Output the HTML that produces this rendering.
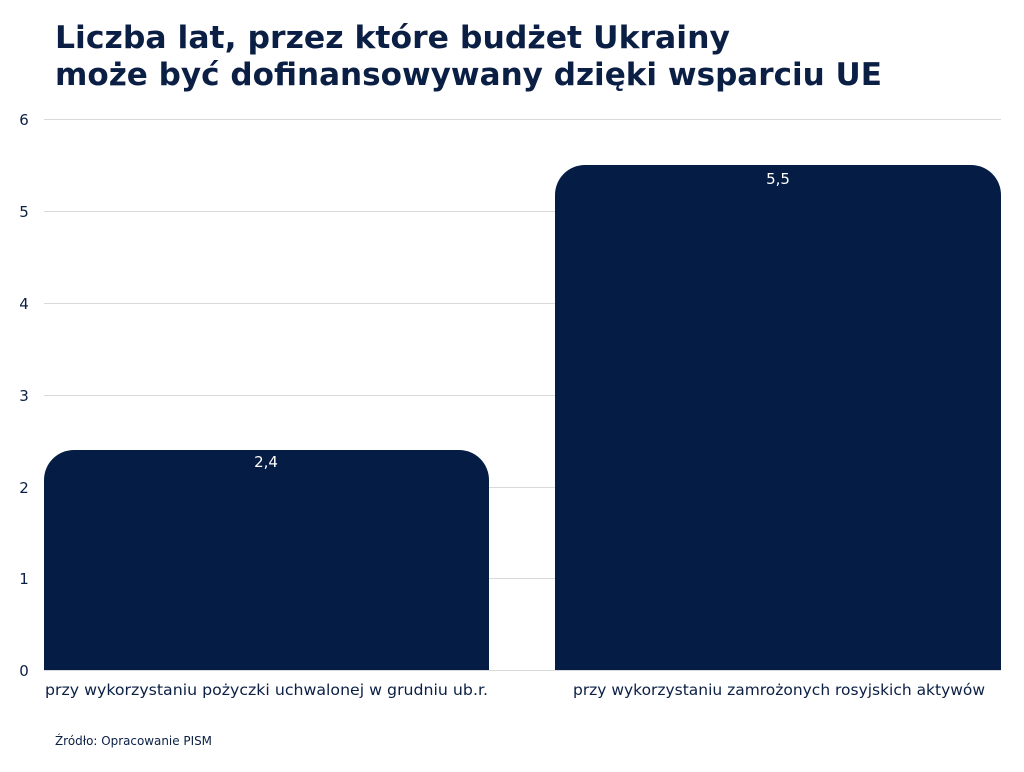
<!DOCTYPE html>
<html><head><meta charset="utf-8"><style>
body{margin:0;background:#fff;width:1024px;height:768px;overflow:hidden;font-family:"DejaVu Sans","Liberation Sans",sans-serif;}
</style></head><body>
<svg width="1024" height="768" xmlns="http://www.w3.org/2000/svg" font-family="DejaVu Sans, Liberation Sans, sans-serif">
<text x="55" y="48" font-size="31" font-weight="bold" fill="#0b1f45" textLength="675" lengthAdjust="spacingAndGlyphs">Liczba lat, przez które budżet Ukrainy</text>
<text x="55" y="85" font-size="31" font-weight="bold" fill="#0b1f45" textLength="827" lengthAdjust="spacingAndGlyphs">może być dofinansowywany dzięki wsparciu UE</text>
<g stroke="#d9d9d9" stroke-width="1">
<line x1="44" x2="1001" y1="119.5" y2="119.5"/>
<line x1="44" x2="1001" y1="211.5" y2="211.5"/>
<line x1="44" x2="1001" y1="303.5" y2="303.5"/>
<line x1="44" x2="1001" y1="395.5" y2="395.5"/>
<line x1="44" x2="1001" y1="487.5" y2="487.5"/>
<line x1="44" x2="1001" y1="578.5" y2="578.5"/>
<line x1="44" x2="1001" y1="670.5" y2="670.5"/>
</g>
<g font-size="15" fill="#0b1f45" text-anchor="middle">
<text x="24" y="125">6</text><text x="24" y="217">5</text><text x="24" y="309">4</text>
<text x="24" y="401">3</text><text x="24" y="493">2</text><text x="24" y="584">1</text><text x="24" y="676">0</text>
</g>
<path d="M44,670 V480 A30,30 0 0 1 74,450 H459 A30,30 0 0 1 489,480 V670 Z" fill="#051d45"/>
<path d="M555,670 V195 A30,30 0 0 1 585,165 H971 A30,30 0 0 1 1001,195 V670 Z" fill="#051d45"/>
<text x="266" y="467" font-size="15" fill="#fff" text-anchor="middle">2,4</text>
<text x="778" y="184" font-size="15" fill="#fff" text-anchor="middle">5,5</text>
<text x="45" y="695" font-size="15" fill="#0b1f45" textLength="443" lengthAdjust="spacingAndGlyphs">przy wykorzystaniu pożyczki uchwalonej w grudniu ub.r.</text>
<text x="573" y="695" font-size="15" fill="#0b1f45" textLength="412" lengthAdjust="spacingAndGlyphs">przy wykorzystaniu zamrożonych rosyjskich aktywów</text>
<text x="55" y="745" font-size="12" fill="#0b1f45" textLength="157" lengthAdjust="spacingAndGlyphs">Źródło: Opracowanie PISM</text>
</svg>
</body></html>
